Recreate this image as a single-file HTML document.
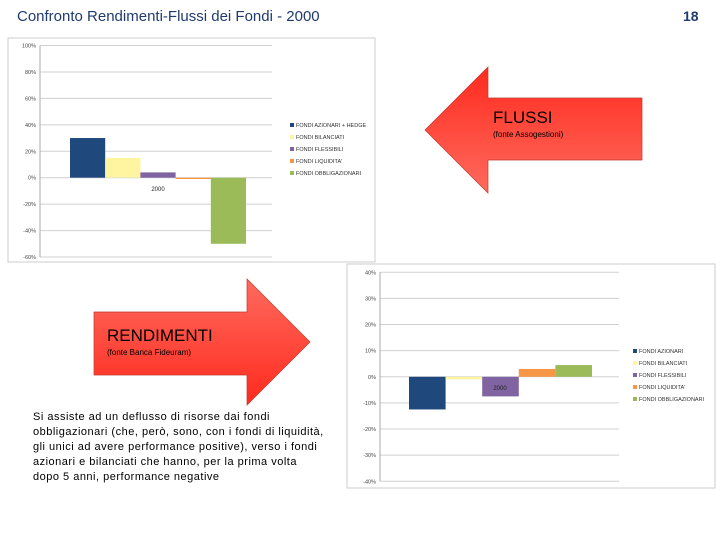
<!DOCTYPE html>
<html><head><meta charset="utf-8"><style>
body{margin:0;background:#fff;width:720px;height:540px;overflow:hidden;position:relative;font-family:"Liberation Sans",sans-serif}
.t{position:absolute;white-space:nowrap}
</style></head><body>
<div class="t" style="left:17px;top:8px;font-size:15px;color:#1f3a6e">Confronto Rendimenti-Flussi dei Fondi - 2000</div>
<div class="t" style="left:683px;top:8px;font-size:14px;font-weight:bold;color:#1f3a6e">18</div>
<svg width="720" height="540" style="position:absolute;left:0;top:0">
<defs>
<linearGradient id="g1" x1="0" y1="0" x2="0" y2="1"><stop offset="0" stop-color="#ff2a1e"/><stop offset="1" stop-color="#ff6a5e"/></linearGradient>
<linearGradient id="g2" x1="0" y1="0" x2="0" y2="1"><stop offset="0" stop-color="#ff6a5e"/><stop offset="1" stop-color="#ff2a1e"/></linearGradient>
</defs>
<polygon points="425,130 488,67 488,98 642,98 642,160 488,160 488,193" fill="url(#g1)" stroke="#c0392b" stroke-width="0.7"/>
<polygon points="94,312 247,312 247,279 310,342 247,405 247,375 94,375" fill="url(#g2)" stroke="#c0392b" stroke-width="0.7"/>
<g id="c1"></g><g id="c2"></g>
</svg>
<div class="t" style="left:493px;top:108px;font-size:17px">FLUSSI</div>
<div class="t" style="left:493px;top:130px;font-size:8px">(fonte Assogestioni)</div>
<div class="t" style="left:107px;top:326px;font-size:17px">RENDIMENTI</div>
<div class="t" style="left:107px;top:348px;font-size:8px">(fonte Banca Fideuram)</div>
<div class="t" style="left:33px;top:410px;font-size:11px;line-height:15px;letter-spacing:0.5px">Si assiste ad un deflusso di risorse dai fondi<br>obbligazionari (che, però, sono, con i fondi di liquidità,<br>gli unici ad avere performance positive), verso i fondi<br>azionari e bilanciati che hanno, per la prima volta<br>dopo 5 anni, performance negative</div>
<script>
const colors=["#1f497d","#fff5a0","#8064a2","#f79646","#9bbb59"];
const cats1=["FONDI AZIONARI + HEDGE","FONDI BILANCIATI","FONDI FLESSIBILI","FONDI LIQUIDITA'","FONDI OBBLIGAZIONARI"];
const vals1=[30,15,4,-1,-50];
const ticks1=[100,80,60,40,20,0,-20,-40,-60];
const cats2=["FONDI AZIONARI","FONDI BILANCIATI","FONDI FLESSIBILI","FONDI LIQUIDITA'","FONDI OBBLIGAZIONARI"];
const vals2=[-12.5,-1,-7.5,3,4.5];
const ticks2=[40,30,20,10,0,-10,-20,-30,-40];
const NS="http://www.w3.org/2000/svg";
function mk(p,tag,a){const e=document.createElementNS(NS,tag);for(const k in a)e.setAttribute(k,a[k]);p.appendChild(e);return e;}
function chart(g,o,cats,vals,ticks,pre){
 const bg=mk(g,"rect",{x:o.bx,y:o.by,width:o.bw,height:o.bh,fill:"#fff",stroke:"#ccc"});
 
 
 const mx=ticks[0],mn=ticks[ticks.length-1];
 const y=v=>o.top+(mx-v)/(mx-mn)*(o.bot-o.top);
 ticks.forEach(t=>{
  const l=mk(g,"line",{x1:o.x0,x2:o.x1,y1:y(t),y2:y(t),stroke:"#d0d0d0","stroke-width":1});
  
  
  const tx=mk(g,"text",{x:o.x0-4,y:y(t)+2,"font-size":5.5,"text-anchor":"end",fill:"#444"});tx.textContent=t.toFixed(0)+"%";
  
  
 });
 const ax=mk(g,"line",{x1:o.x0,x2:o.x0,y1:o.top,y2:o.bot,stroke:"#aaa"});
 
 
 vals.forEach((v,i)=>{
  const xa=o.bstart+i*o.bwid;
  const r=mk(g,"rect",{x:xa,width:o.bwid,y:Math.min(y(v),y(0)),height:Math.max(1,Math.abs(y(v)-y(0))),fill:colors[i]});
  
  
  const ly=o.ly+i*o.lg;
  const sw=mk(g,"rect",{x:o.lx,y:ly-3,width:4,height:4,fill:colors[i]});
  
  
  const lt=mk(g,"text",{x:o.lx+6,y:ly+1,"font-size":5.5,fill:"#333"});lt.textContent=cats[i];
  
  
 });
 const c=mk(g,"text",{x:o.catx,y:o.caty,"font-size":6,"text-anchor":"middle",fill:"#222"});c.textContent="2000";
 
 
}
chart(document.getElementById("c1"),{bx:8,by:38,bw:367,bh:224,top:45.5,bot:257,x0:40,x1:272,bstart:70,bwid:35.2,lx:290,ly:126,lg:12,catx:158,caty:191},cats1,vals1,ticks1,"flussi");
chart(document.getElementById("c2"),{bx:347,by:264,bw:368,bh:224,top:272.3,bot:481.3,x0:380,x1:619,bstart:409,bwid:36.6,lx:633,ly:352,lg:12,catx:500,caty:390},cats2,vals2,ticks2,"rendimenti");
</script>
</body></html>
